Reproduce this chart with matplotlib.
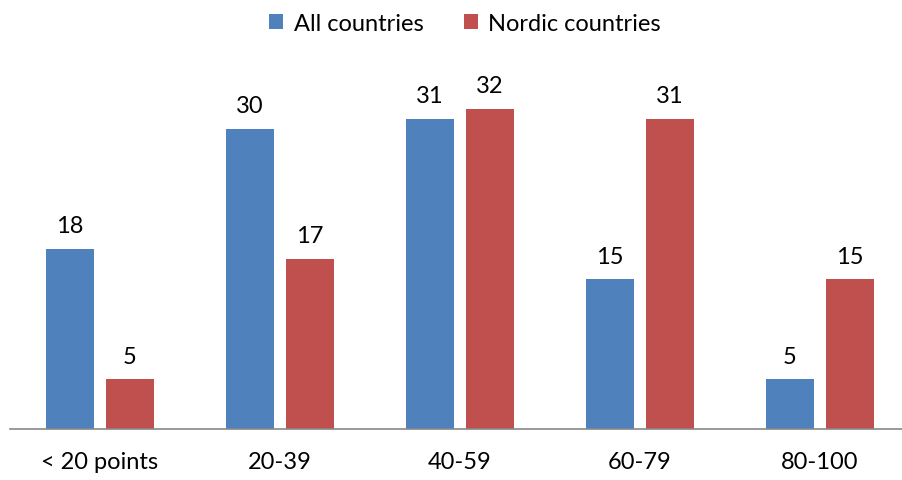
import matplotlib.pyplot as plt
import numpy as np

categories = ['< 20 points', '20-39', '40-59', '60-79', '80-100']
all_countries = [18, 30, 31, 15, 5]
nordic_countries = [5, 17, 32, 31, 15]

blue = '#4F81BD'
red = '#C0504D'

plt.rcParams['font.family'] = ['Lato', 'DejaVu Sans']

fig = plt.figure(figsize=(9.03, 4.81), dpi=100)
ax = fig.add_axes([10 / 903, 1 - 430 / 481, 900 / 903, 355 / 481])

x = np.arange(len(categories))
w = 0.267
b1 = ax.bar(x - 0.167, all_countries, w, color=blue, label='All countries')
b2 = ax.bar(x + 0.167, nordic_countries, w, color=red, label='Nordic countries')

for bars in (b1, b2):
    for rect in bars:
        ax.annotate(str(int(rect.get_height())),
                    (rect.get_x() + rect.get_width() / 2, rect.get_height()),
                    xytext=(0, 9), textcoords='offset points',
                    ha='center', va='bottom', fontsize=17)

ax.set_xlim(-0.5, 4.5)
ax.set_ylim(0, 35.5)
ax.set_xticks(x)
ax.set_xticklabels(categories, fontsize=17)
ax.tick_params(axis='x', length=0, pad=16)
ax.set_yticks([])
for s in ('top', 'right', 'left'):
    ax.spines[s].set_visible(False)
ax.spines['bottom'].set_color('#888888')
ax.spines['bottom'].set_linewidth(1.2)

fig.legend(loc='upper center', bbox_to_anchor=(0.515, 1.015), ncol=2, frameon=False,
           fontsize=17, handlelength=0.6, handleheight=0.6, handletextpad=0.45,
           columnspacing=1.7)

fig.savefig('out.png', dpi=100)
